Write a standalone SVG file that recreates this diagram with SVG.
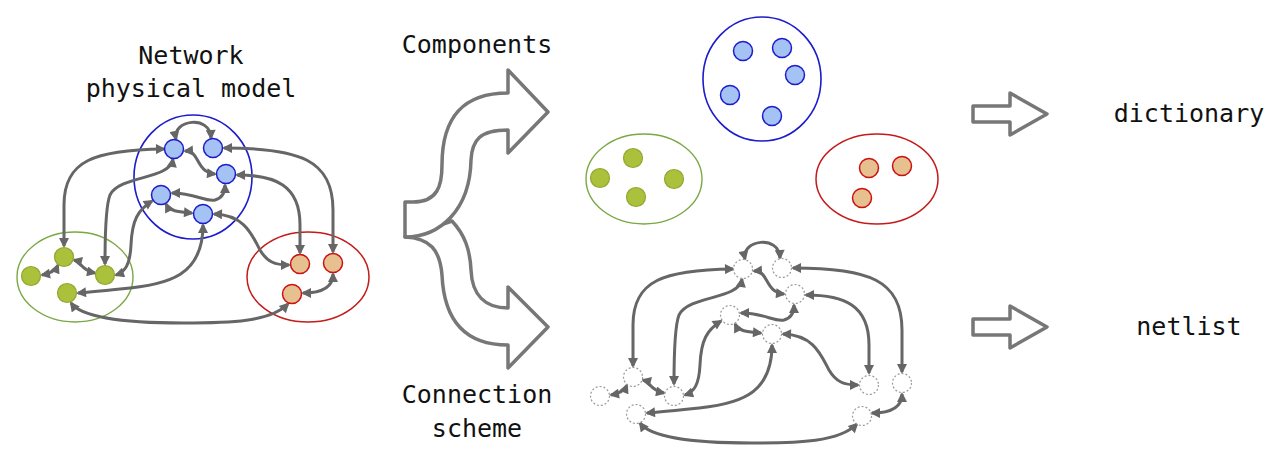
<svg xmlns="http://www.w3.org/2000/svg" xmlns:xlink="http://www.w3.org/1999/xlink" width="1280" height="468" viewBox="0 0 1280 468">
<style>
.t{font-family:"DejaVu Sans Mono","Liberation Mono",monospace;font-size:25px;fill:#111;text-anchor:middle}
.e{fill:none;stroke:#666;stroke-width:3;marker-start:url(#ah);marker-end:url(#ah)}
.bn{fill:#a4c2f4;stroke:#1c1ccc;stroke-width:1.5}
.gn{fill:#abc13b;stroke:#8fa832;stroke-width:1.2}
.rn{fill:#e6c08f;stroke:#cc1111;stroke-width:1.5}
.be{fill:none;stroke:#1c1ccc;stroke-width:1.6}
.ge{fill:none;stroke:#7aa845;stroke-width:1.4}
.re{fill:none;stroke:#c41a1a;stroke-width:1.5}
.dn{fill:#fff;stroke:#999;stroke-width:1.2;stroke-dasharray:2 2}
.big{fill:#fff;stroke:#777;stroke-width:3.5;stroke-linejoin:round}
</style>
<defs>
<marker id="ah" viewBox="0 0 10 10" refX="8" refY="5" markerWidth="11" markerHeight="10" markerUnits="userSpaceOnUse" orient="auto-start-reverse">
<path d="M0,0 L10,5 L0,10 z" fill="#666"/>
</marker>
<g id="edgeset">
<path d="M176,139 C172,120 210,114 211,138"/>
<path d="M164,149 C95,150 64,160 64,205 L64,246"/>
<path d="M173,159 C170,180 120,175 110,195 C106,205 105,230 105,264"/>
<path d="M152,201 C138,210 132,220 131,245 C130,265 125,272 116,275"/>
<path d="M203,225 C203,275 170,285 120,289 C100,291 90,292 78,293"/>
<path d="M58,265 C55,272 48,274 42,275"/>
<path d="M74,260 C82,262 80,270 95,273"/>
<path d="M185,151 C200,150 195,172 215,174"/>
<path d="M172,193 C195,193 205,202 215,200 C222,198 225,192 225,185"/>
<path d="M166,204 C170,212 180,212 192,213"/>
<path d="M214,214 C245,215 252,235 260,250 C267,262 275,265 289,265"/>
<path d="M237,175 C275,175 300,185 300,225 L300,253"/>
<path d="M224,148 C300,148 333,160 333,210 L333,252"/>
<path d="M303,293 C320,293 333,288 333,274"/>
<path d="M71,303 C85,322 150,323 183,323 C230,323 270,322 288,304"/>
</g>
</defs>
<rect width="1280" height="468" fill="#fff"/>

<g id="labels">
<text class="t" x="191" y="64">Network</text>
<text class="t" x="191" y="97">physical model</text>
<text class="t" x="477" y="53">Components</text>
<text class="t" x="477" y="403">Connection</text>
<text class="t" x="477" y="437">scheme</text>
<text class="t" x="1189" y="122">dictionary</text>
<text class="t" x="1189" y="335">netlist</text>
</g>

<g id="physical-model">
<ellipse id="blue-group" class="be" cx="193" cy="177" rx="59" ry="62"/>
<ellipse id="green-group" class="ge" cx="75" cy="277" rx="58" ry="45"/>
<ellipse id="red-group" class="re" cx="308" cy="277" rx="61" ry="45"/>
</g>
<g id="connectors" class="e">
<use xlink:href="#edgeset"/>
<use xlink:href="#edgeset" transform="translate(569,120)"/>
</g>
<g id="physical-nodes">
<g id="pA"><circle class="bn" cx="174" cy="149" r="9.5"/></g>
<g id="pB"><circle class="bn" cx="213" cy="148" r="9.5"/></g>
<g id="pC"><circle class="bn" cx="226" cy="174" r="9.5"/></g>
<g id="pD"><circle class="bn" cx="161" cy="195" r="9.5"/></g>
<g id="pE"><circle class="bn" cx="203" cy="214" r="9.5"/></g>
<g id="pG1"><circle class="gn" cx="64" cy="257" r="9.5"/></g>
<g id="pG2"><circle class="gn" cx="31" cy="276" r="9.5"/></g>
<g id="pG3"><circle class="gn" cx="105" cy="275" r="9.5"/></g>
<g id="pG4"><circle class="gn" cx="67" cy="293" r="9.5"/></g>
<g id="pR1"><circle class="rn" cx="300" cy="264" r="9.5"/></g>
<g id="pR2"><circle class="rn" cx="333" cy="263" r="9.5"/></g>
<g id="pR3"><circle class="rn" cx="292" cy="294" r="9.5"/></g>
</g>

<g id="split-arrow">
<path class="big" d="M405,237 C430,238 440,250 442,275 C444,320 465,345 508,345 L508,368 L548,327 L508,287 L508,308 C485,308 472,295 471,270 C470,250 465,235 452,221 Z"/>
<path class="big" d="M405,202 L413,202 C438,202 442,185 442,165 C442,115 465,93 508,93 L508,70 L548,112 L508,153 L508,130 C480,130 472,140 471,160 C470,210 440,237 405,237 Z"/>
</g>

<g id="components" transform="translate(569,-98)">
<ellipse id="c-blue-group" class="be" cx="193" cy="177" rx="59" ry="62"/>
<ellipse id="c-green-group" class="ge" cx="75" cy="277" rx="58" ry="45"/>
<ellipse id="c-red-group" class="re" cx="308" cy="277" rx="61" ry="45"/>
<g id="cA"><circle class="bn" cx="174" cy="149" r="9.5"/></g>
<g id="cB"><circle class="bn" cx="213" cy="146" r="9.5"/></g>
<g id="cC"><circle class="bn" cx="226" cy="173" r="9.5"/></g>
<g id="cD"><circle class="bn" cx="161" cy="193" r="9.5"/></g>
<g id="cE"><circle class="bn" cx="203" cy="214" r="9.5"/></g>
<g id="cG1"><circle class="gn" cx="64" cy="256" r="9.5"/></g>
<g id="cG2"><circle class="gn" cx="31" cy="276" r="9.5"/></g>
<g id="cG3"><circle class="gn" cx="105" cy="277" r="9.5"/></g>
<g id="cG4"><circle class="gn" cx="67" cy="295" r="9.5"/></g>
<g id="cR1"><circle class="rn" cx="300" cy="266" r="9.5"/></g>
<g id="cR2"><circle class="rn" cx="333" cy="264" r="9.5"/></g>
<g id="cR3"><circle class="rn" cx="293" cy="296" r="9.5"/></g>
</g>

<g id="connection-scheme" transform="translate(569,120)">
<g id="sA"><circle class="dn" cx="174" cy="149" r="9.5"/></g>
<g id="sB"><circle class="dn" cx="213" cy="148" r="9.5"/></g>
<g id="sC"><circle class="dn" cx="226" cy="174" r="9.5"/></g>
<g id="sD"><circle class="dn" cx="161" cy="195" r="9.5"/></g>
<g id="sE"><circle class="dn" cx="203" cy="214" r="9.5"/></g>
<g id="sG1"><circle class="dn" cx="64" cy="257" r="9.5"/></g>
<g id="sG2"><circle class="dn" cx="31" cy="276" r="9.5"/></g>
<g id="sG3"><circle class="dn" cx="105" cy="276" r="9.5"/></g>
<g id="sG4"><circle class="dn" cx="67" cy="294" r="9.5"/></g>
<g id="sR1"><circle class="dn" cx="300" cy="265" r="9.5"/></g>
<g id="sR2"><circle class="dn" cx="333" cy="263" r="9.5"/></g>
<g id="sR3"><circle class="dn" cx="293" cy="296" r="9.5"/></g>
</g>

<g id="out-arrows">
<polygon id="to-dictionary" class="big" points="973,106 1010,106 1010,93 1047,114 1010,135 1010,122 973,122"/>
<polygon id="to-netlist" class="big" points="973,319 1010,319 1010,306 1047,327 1010,348 1010,335 973,335"/>
</g>
</svg>
